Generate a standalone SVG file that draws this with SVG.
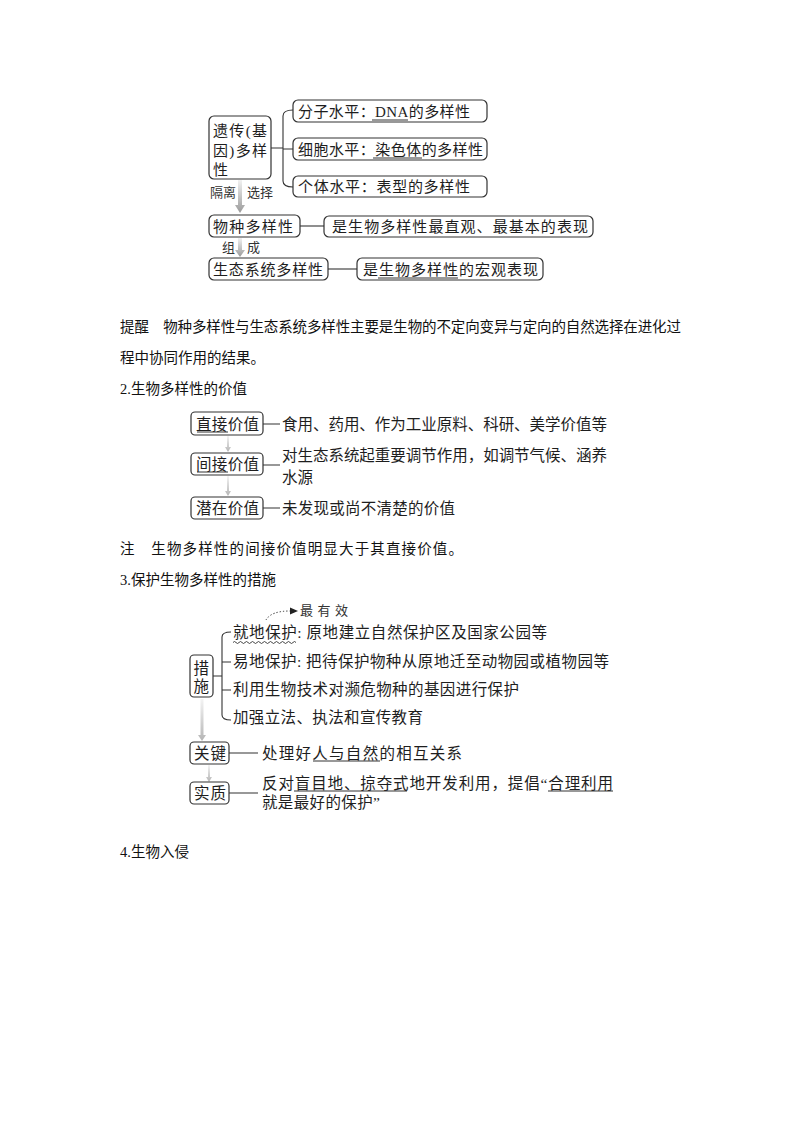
<svg xmlns="http://www.w3.org/2000/svg" width="800" height="1132" viewBox="0 0 800 1132">
<defs>
<linearGradient id="gg" x1="0" y1="0" x2="0" y2="1">
<stop offset="0" stop-color="#f2f2f2"/>
<stop offset="1" stop-color="#9a9a9a"/>
</linearGradient>
<linearGradient id="gl" x1="0" y1="0" x2="0" y2="1">
<stop offset="0" stop-color="#f4f4f4"/>
<stop offset="1" stop-color="#b5b5b5"/>
</linearGradient>
<style>
.box{fill:#fff;stroke:#333;stroke-width:1.2}
.t{font-family:"Liberation Serif","Noto Sans CJK SC",serif;font-size:15px;fill:#1e1e1e}
.t16{font-family:"Liberation Serif","Noto Sans CJK SC",serif;font-size:15.5px;fill:#1e1e1e}
.s{font-family:"Liberation Serif","Noto Sans CJK SC",serif;font-size:13px;fill:#333}
.b{font-family:"Liberation Serif","Noto Sans CJK SC",sans-serif;font-size:14.5px;fill:#111}
.ln{fill:none;stroke:#333;stroke-width:1.1}
.ul{fill:none;stroke:#333;stroke-width:1}
.ga{fill:url(#gg)}
.gl{fill:url(#gl)}
</style>
</defs>
<rect width="800" height="1132" fill="#fff"/>

<!-- connectors -->
<g id="connectors">
<path class="ln" d="M271,148 H283 M293,110 Q283,110 283,116 V181 Q283,187 293,187 M283,149 H293"/>
<path class="ga" d="M238,180 H242 V205 H245 L240,213 L235,205 H238 Z"/>
<path class="ga" d="M238,238 H242 V250 H245 L240,257 L235,250 H238 Z"/>
<path class="ln" d="M300,226 H324"/>
<path class="ln" d="M328,269 H357"/>
<path class="gl" d="M227,436 H229 V447 H231 L228,452 L225,447 H227 Z"/>
<path class="gl" d="M227,476 H229 V491 H231 L228,496 L225,491 H227 Z"/>
<path class="ln" d="M263,424 H280 M263,465 H280 M263,508 H280"/>
<path class="ln" d="M213,676 H222 M231,632 Q222,632 222,637 V715 Q222,720 231,720 M222,662 H231 M222,690 H231"/>
<path fill="none" stroke="#333" stroke-width="1" stroke-dasharray="1.3 2" d="M266,620 Q271,611 290,611"/>
<polygon points="290,607.5 298,611 290,614.5" fill="#222"/>
<path class="gl" d="M200.5,699 H203.5 V735 H206 L202,741 L198,735 H200.5 Z"/>
<path class="gl" d="M208,765 H210 V777 H212 L209,782 L206,777 H208 Z"/>
<path class="ln" d="M229,753 H258 M229,793 H258"/>
</g>

<!-- section 1 -->
<g id="n-genetic">
<rect class="box" x="209" y="116" width="62" height="63" rx="5"/>
<text class="t" x="213" y="136" textLength="54" lengthAdjust="spacing">遗传(基</text>
<text class="t" x="213" y="156" textLength="54" lengthAdjust="spacing">因)多样</text>
<text class="t" x="213" y="175">性</text>
</g>
<g id="n-molecular">
<rect class="box" x="293" y="100" width="194" height="22" rx="5"/>
<text class="t" x="298" y="117" textLength="172" lengthAdjust="spacing">分子水平：DNA的多样性</text>
<line class="ul" x1="372" y1="120" x2="408" y2="120"/>
</g>
<g id="n-cell">
<rect class="box" x="293" y="138" width="194" height="22" rx="5"/>
<text class="t" x="298" y="155" textLength="185" lengthAdjust="spacing">细胞水平：染色体的多样性</text>
<line class="ul" x1="373" y1="158" x2="422" y2="158"/>
</g>
<g id="n-individual">
<rect class="box" x="293" y="176" width="194" height="21" rx="5"/>
<text class="t" x="298" y="192" textLength="172" lengthAdjust="spacing">个体水平：表型的多样性</text>
</g>
<g id="lbl-1">
<text class="s" x="210" y="197">隔离</text>
<text class="s" x="247" y="197">选择</text>
<text class="s" x="222" y="252">组</text>
<text class="s" x="247" y="252">成</text>
</g>
<g id="n-species">
<rect class="box" x="209" y="215" width="91" height="22" rx="5"/>
<text class="t" x="213" y="232" textLength="80" lengthAdjust="spacing">物种多样性</text>
</g>
<g id="n-species-desc">
<rect class="box" x="324" y="216" width="269" height="21" rx="5"/>
<text class="t" x="332" y="232" textLength="256" lengthAdjust="spacing">是生物多样性最直观、最基本的表现</text>
</g>
<g id="n-eco">
<rect class="box" x="209" y="258" width="119" height="22" rx="5"/>
<text class="t" x="213" y="275" textLength="110" lengthAdjust="spacing">生态系统多样性</text>
</g>
<g id="n-eco-desc">
<rect class="box" x="357" y="258" width="186" height="22" rx="5"/>
<text class="t" x="363" y="275" textLength="175" lengthAdjust="spacing">是生物多样性的宏观表现</text>
<line class="ul" x1="378" y1="278" x2="458" y2="278"/>
</g>

<!-- body text -->
<g id="body">
<text class="b" x="120" y="332" textLength="561" lengthAdjust="spacing">提醒　物种多样性与生态系统多样性主要是生物的不定向变异与定向的自然选择在进化过</text>
<text class="b" x="120" y="363" textLength="145" lengthAdjust="spacing">程中协同作用的结果。</text>
<text class="b" x="120" y="394" textLength="127" lengthAdjust="spacing">2.生物多样性的价值</text>
<text class="b" x="120" y="554" textLength="343" lengthAdjust="spacing">注　生物多样性的间接价值明显大于其直接价值。</text>
<text class="b" x="120" y="585" textLength="156" lengthAdjust="spacing">3.保护生物多样性的措施</text>
<text class="b" x="120" y="857" textLength="69" lengthAdjust="spacing">4.生物入侵</text>
</g>

<!-- section 2 -->
<g id="n-direct">
<rect class="box" x="191" y="412" width="72" height="23" rx="4"/>
<text class="t16" x="196" y="430" textLength="63" lengthAdjust="spacing">直接价值</text>
<line class="ul" x1="197" y1="432" x2="228" y2="432"/>
<text class="t16" x="282" y="430" textLength="325" lengthAdjust="spacing">食用、药用、作为工业原料、科研、美学价值等</text>
</g>
<g id="n-indirect">
<rect class="box" x="191" y="453" width="72" height="22" rx="4"/>
<text class="t16" x="196" y="470" textLength="63" lengthAdjust="spacing">间接价值</text>
<line class="ul" x1="197" y1="472" x2="228" y2="472"/>
<text class="t16" x="282" y="461" textLength="325" lengthAdjust="spacing">对生态系统起重要调节作用，如调节气候、涵养</text>
<text class="t16" x="282" y="483" textLength="31" lengthAdjust="spacing">水源</text>
</g>
<g id="n-potential">
<rect class="box" x="191" y="497" width="72" height="22" rx="4"/>
<text class="t16" x="196" y="514" textLength="63" lengthAdjust="spacing">潜在价值</text>
<text class="t16" x="282" y="514" textLength="173" lengthAdjust="spacing">未发现或尚不清楚的价值</text>
</g>

<!-- section 3 -->
<g id="n-measures">
<rect class="box" x="190" y="655" width="23" height="42" rx="4"/>
<text class="t16" x="193.5" y="674">措</text>
<text class="t16" x="193.5" y="692">施</text>
</g>
<g id="n-most-effective">
<text class="s" x="300" y="615" textLength="48" lengthAdjust="spacing">最有效</text>
</g>
<g id="n-insitu">
<text class="t16" x="233" y="638" textLength="314" lengthAdjust="spacing">就地保护: 原地建立自然保护区及国家公园等</text>
<path fill="none" stroke="#333" stroke-width="0.9" d="M233,642.5 q1.5,-2 3,0 t3,0 t3,0 t3,0 t3,0 t3,0 t3,0 t3,0 t3,0 t3,0 t3,0 t3,0 t3,0 t3,0 t3,0 t3,0 t3,0 t3,0 t3,0 t3,0 t3,0"/>
</g>
<g id="n-exsitu">
<text class="t16" x="233" y="667" textLength="376" lengthAdjust="spacing">易地保护: 把待保护物种从原地迁至动物园或植物园等</text>
</g>
<g id="n-biotech">
<text class="t16" x="233" y="695" textLength="286" lengthAdjust="spacing">利用生物技术对濒危物种的基因进行保护</text>
</g>
<g id="n-law">
<text class="t16" x="233" y="723" textLength="190" lengthAdjust="spacing">加强立法、执法和宣传教育</text>
</g>
<g id="n-key">
<rect class="box" x="190" y="742" width="39" height="22" rx="4"/>
<text class="t16" x="194" y="759" textLength="32" lengthAdjust="spacing">关键</text>
<text class="t16" x="262" y="759" textLength="200" lengthAdjust="spacing">处理好人与自然的相互关系</text>
<line class="ul" x1="313" y1="761" x2="380" y2="761"/>
</g>
<g id="n-essence">
<rect class="box" x="190" y="782" width="39" height="22" rx="4"/>
<text class="t16" x="194" y="799" textLength="32" lengthAdjust="spacing">实质</text>
<text class="t16" x="262" y="789" textLength="351" lengthAdjust="spacing">反对盲目地、掠夺式地开发利用，提倡“合理利用</text>
<text class="t16" x="262" y="808" textLength="118" lengthAdjust="spacing">就是最好的保护”</text>
<line class="ul" x1="294" y1="791" x2="407" y2="791"/>
<line class="ul" x1="548" y1="791" x2="613" y2="791"/>
</g>
</svg>
